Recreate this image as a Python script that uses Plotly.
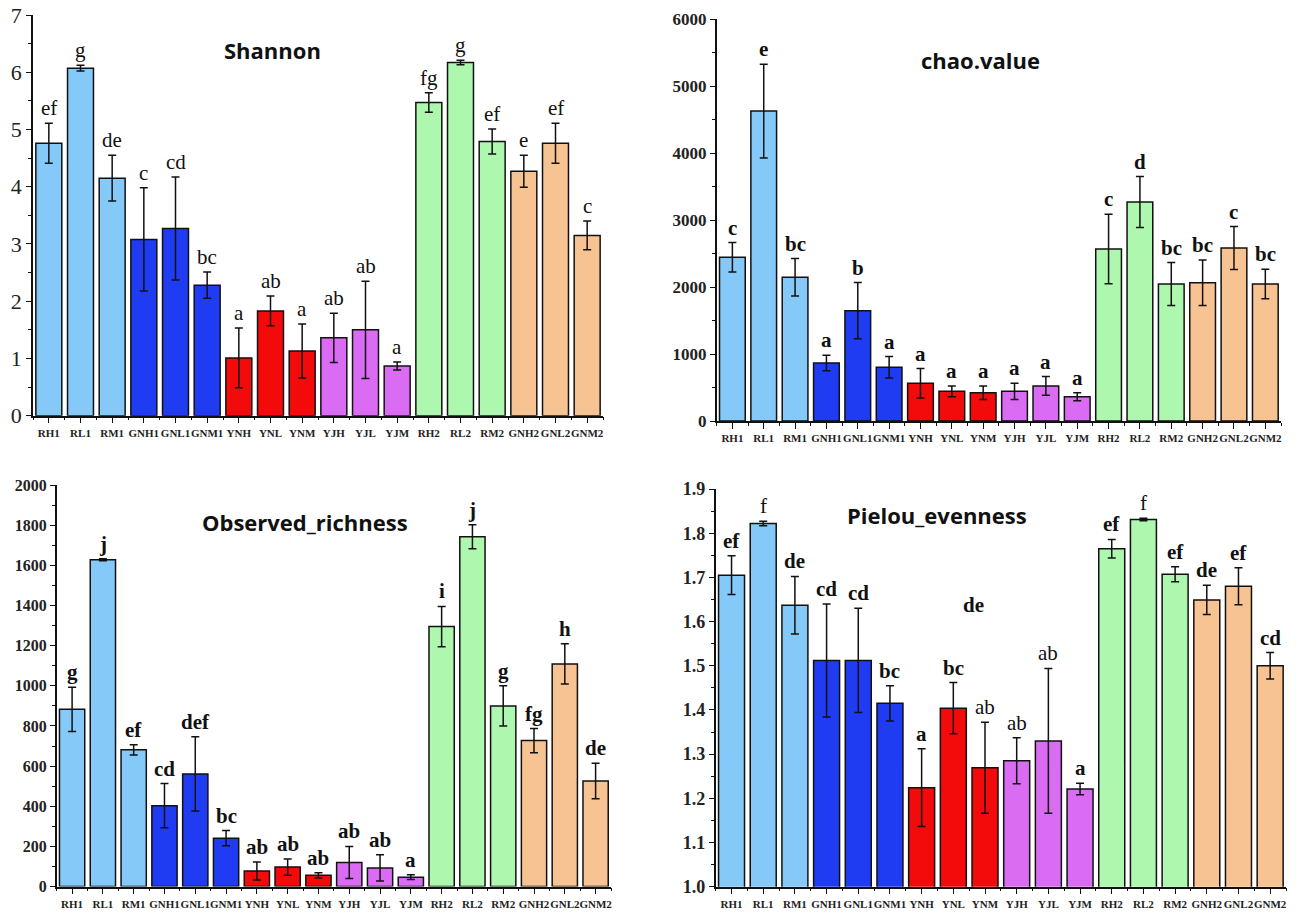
import plotly.graph_objects as go

categories = ["RH1", "RL1", "RM1", "GNH1", "GNL1", "GNM1", "YNH", "YNL", "YNM",
              "YJH", "YJL", "YJM", "RH2", "RL2", "RM2", "GNH2", "GNL2", "GNM2"]
groups = ["R1"] * 3 + ["GN1"] * 3 + ["YN"] * 3 + ["YJ"] * 3 + ["R2"] * 3 + ["GN2"] * 3

shannon_mean = [4.76, 6.07, 4.15, 3.08, 3.27, 2.28, 1.01, 1.83, 1.13,
                1.36, 1.50, 0.87, 5.47, 6.17, 4.79, 4.27, 4.76, 3.15]
shannon_err = [0.35, 0.05, 0.40, 0.90, 0.90, 0.23, 0.52, 0.26, 0.47,
               0.43, 0.85, 0.07, 0.17, 0.04, 0.22, 0.28, 0.35, 0.25]
shannon_letters = ["ef", "g", "de", "c", "cd", "bc", "a", "ab", "a",
                   "ab", "ab", "a", "fg", "g", "ef", "e", "ef", "c"]

chao_mean = [2445, 4630, 2146, 866, 1647, 802, 563, 443, 423,
             443, 523, 363, 2569, 3271, 2046, 2066, 2584, 2046]
chao_err = [220, 700, 280, 115, 420, 160, 220, 80, 100,
            120, 140, 60, 520, 380, 320, 340, 320, 220]
chao_letters = ["c", "e", "bc", "a", "b", "a", "a", "a", "a",
                "a", "a", "a", "c", "d", "bc", "bc", "c", "bc"]

obs_mean = [883, 1628, 681, 403, 561, 241, 78, 97, 56,
            120, 93, 47, 1295, 1742, 900, 727, 1109, 526]
obs_err = [110, 5, 25, 110, 185, 38, 45, 40, 13,
           80, 65, 12, 100, 60, 100, 60, 100, 88]
obs_letters = ["g", "j", "ef", "cd", "def", "bc", "ab", "ab", "ab",
               "ab", "ab", "a", "i", "j", "g", "fg", "h", "de"]

pielou_mean = [1.705, 1.822, 1.637, 1.512, 1.512, 1.415, 1.224, 1.404, 1.269,
               1.285, 1.330, 1.221, 1.765, 1.831, 1.707, 1.649, 1.680, 1.500]
pielou_err = [0.044, 0.005, 0.065, 0.128, 0.118, 0.040, 0.088, 0.058, 0.103,
              0.052, 0.164, 0.013, 0.021, 0.003, 0.017, 0.033, 0.042, 0.030]
pielou_letters = ["ef", "f", "de", "cd", "cd", "bc", "a", "bc", "ab",
                  "ab", "ab", "a", "ef", "f", "ef", "de", "ef", "cd"]
pielou_letter_bold = [True, False, True, True, True, True, True, True, False,
                      False, False, True, True, False, True, True, True, True]

group_colors = {"R1": "#84C9F7", "GN1": "#1F3CF2", "YN": "#F30A0A",
                "YJ": "#DA6CF3", "R2": "#AEF7AE", "GN2": "#F8C393"}
colors = [group_colors[g] for g in groups]

W, H = 1304, 919
SERIF = "Liberation Serif"


def px(x):
    return x / W


def py(y):
    return 1 - y / H


def xd(a, b):
    return [px(a), px(b)]


def yd(bottom, top):
    return [py(bottom), py(top)]


panels = [
    dict(mean=shannon_mean, err=shannon_err, letters=shannon_letters, bold=[False] * 18,
         xdom=xd(33, 603), ydom=yd(415.7, 15), yr=[0, 7], dtick=1, minor=0.5,
         tickfont=dict(family=SERIF, size=22, color="#222"), tickformat="d",
         title="Shannon", tx=272, ty=50, lsize=21),
    dict(mean=chao_mean, err=chao_err, letters=chao_letters, bold=[True] * 18,
         xdom=xd(716.7, 1281), ydom=yd(421, 19.3), yr=[0, 6000], dtick=1000, minor=500,
         tickfont=dict(family=SERIF, size=17, color="#222", weight="bold"), tickformat="d",
         title="chao.value", tx=980, ty=60, lsize=21),
    dict(mean=obs_mean, err=obs_err, letters=obs_letters, bold=[True] * 18,
         xdom=xd(56.7, 611), ydom=yd(886.6, 485), yr=[0, 2000], dtick=200, minor=100,
         tickfont=dict(family=SERIF, size=16, color="#222", weight="bold"), tickformat="d",
         title="Observed_richness", tx=305, ty=522, lsize=21),
    dict(mean=pielou_mean, err=pielou_err, letters=pielou_letters, bold=pielou_letter_bold,
         xdom=xd(715.7, 1286), ydom=yd(886.7, 489), yr=[1.0, 1.9], dtick=0.1, minor=0.05,
         tickfont=dict(family=SERIF, size=18, color="#222", weight="bold"), tickformat=".1f",
         title="Pielou_evenness", tx=937, ty=515, lsize=21),
]

fig = go.Figure()
xs = list(range(len(categories)))

for i, p in enumerate(panels):
    n = "" if i == 0 else str(i + 1)
    fig.add_trace(go.Bar(
        x=xs, y=p["mean"], marker=dict(color=colors, line=dict(color="#111", width=1.5)),
        width=0.82,
        error_y=dict(type="data", array=p["err"], visible=True, color="#111",
                     thickness=1.5, width=4),
        xaxis="x" + n, yaxis="y" + n, showlegend=False, hoverinfo="skip"))
    fig.update_layout(**{
        "xaxis" + n: dict(domain=p["xdom"], range=[-0.5, 17.5], anchor="y" + n,
                          tickmode="array", tickvals=xs, ticktext=categories,
                          tickangle=0, automargin=False, ticklabeloverflow="allow",
                          ticks="outside", ticklen=6, tickwidth=1.2, tickcolor="#111",
                          showline=True, linecolor="#111", linewidth=1.5,
                          showgrid=False, zeroline=False,
                          tickfont=dict(family=SERIF, size=11, color="#222", weight="bold"),
                          minor=dict(tickmode="linear", tick0=0.5, dtick=1, ticks="outside",
                                     ticklen=3, tickcolor="#111", showgrid=False),
                          fixedrange=True),
        "yaxis" + n: dict(domain=p["ydom"], range=p["yr"], anchor="x" + n,
                          tickmode="linear", tick0=p["yr"][0], dtick=p["dtick"],
                          tickformat=p["tickformat"], automargin=False,
                          ticklabeloverflow="allow",
                          ticks="outside", ticklen=5, tickwidth=1.2, tickcolor="#111",
                          showline=True, linecolor="#111", linewidth=1.5,
                          showgrid=False, zeroline=False, tickfont=p["tickfont"],
                          minor=dict(dtick=p["minor"], ticks="outside", ticklen=3,
                                     tickcolor="#111", showgrid=False),
                          fixedrange=True),
    })
    for j, lab in enumerate(p["letters"]):
        fig.add_annotation(
            x=j, y=p["mean"][j] + p["err"][j], xref="x" + n, yref="y" + n,
            text=lab, showarrow=False, yanchor="bottom", yshift=1,
            font=dict(family=SERIF, size=p["lsize"], color="#111",
                      weight="bold" if p["bold"][j] else "normal"))
    fig.add_annotation(
        x=px(p["tx"]), y=py(p["ty"]), xref="paper", yref="paper",
        xanchor="center", yanchor="middle",
        text="<b>" + p["title"] + "</b>", showarrow=False,
        font=dict(family="Open Sans", size=22, color="#111"))

# stray label in the evenness panel
fig.add_annotation(x=px(973), y=py(605), xref="paper", yref="paper",
                   xanchor="center", yanchor="middle",
                   text="<b>de</b>", showarrow=False,
                   font=dict(family=SERIF, size=21, color="#111"))

fig.update_layout(width=W, height=H, margin=dict(l=0, r=0, t=0, b=0, autoexpand=False),
                  paper_bgcolor="white", plot_bgcolor="white", bargap=0.18)

fig.write_html("out.html", config={"displayModeBar": False},
               post_script="document.body.style.margin='0';")
